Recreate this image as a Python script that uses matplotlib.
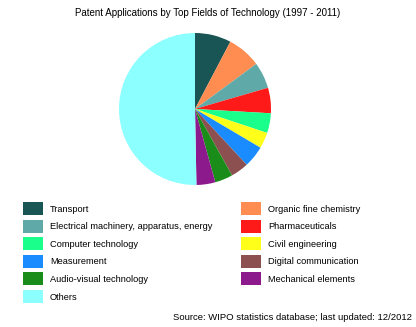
import matplotlib
matplotlib.use('Agg')
import matplotlib.pyplot as plt
from matplotlib.patches import Rectangle

plt.rcParams['font.family'] = ['Liberation Sans', 'DejaVu Sans']

fields = ['Transport', 'Organic fine chemistry',
          'Electrical machinery, apparatus, energy', 'Pharmaceuticals',
          'Computer technology', 'Civil engineering',
          'Measurement', 'Digital communication',
          'Audio-visual technology', 'Mechanical elements',
          'Others']
shares = [7.7, 7.2, 5.6, 5.4, 4.2, 3.4, 4.6, 3.8, 3.8, 4.0, 50.3]
colors = ['#1a5555', '#ff8c50', '#5faaa8', '#ff1a1a', '#1aff8c', '#ffff1a',
          '#1a8cff', '#8c5050', '#1a8c1a', '#8c1a8c', '#8cffff']

W, H = 416, 327
fig = plt.figure(figsize=(W / 100, H / 100), dpi=100)

ax = fig.add_axes([119 / W, 1 - 185 / H, 152 / W, 152 / H])
ax.pie(shares, colors=colors, startangle=90, counterclock=False,
       radius=1.0, wedgeprops={'linewidth': 0})
ax.set_xlim(-1, 1)
ax.set_ylim(-1, 1)
ax.set_aspect('equal')
ax.axis('off')

fig.text(208 / W, 1 - 13 / H,
         'Patent Applications by Top Fields of Technology (1997 - 2011)',
         ha='center', va='center', fontsize=7.0)

# two-column legend, filled row by row
for i, (name, col) in enumerate(zip(fields, colors)):
    row, c = divmod(i, 2)
    x0 = 23 if c == 0 else 241
    top = 202 + row * 17.6
    fig.patches.append(Rectangle((x0 / W, 1 - (top + 13) / H), 20 / W, 13 / H,
                                 transform=fig.transFigure, facecolor=col,
                                 edgecolor='none'))
    fig.text((x0 + 27) / W, 1 - (top + 7) / H, name,
             ha='left', va='center', fontsize=6.7)

fig.text(412 / W, 1 - 318 / H,
         'Source: WIPO statistics database; last updated: 12/2012',
         ha='right', va='center', fontsize=6.8)

fig.savefig('out.png', dpi=100)
